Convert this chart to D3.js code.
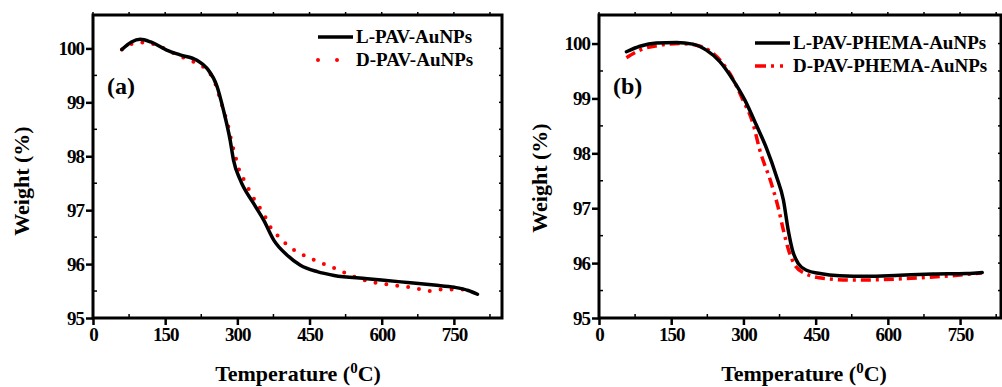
<!DOCTYPE html>
<html>
<head>
<meta charset="utf-8">
<script src="https://cdn.jsdelivr.net/npm/d3@7"></script>
<style>
  body { margin: 0; background: #fff; }
  text { font-family: "Liberation Serif", "Times New Roman", serif; font-weight: bold; }
</style>
</head>
<body>
<div id="chart"></div>
<script>
// panel (a) data
var tempA_L = [60, 80, 98, 120, 153, 181, 216, 237, 258, 271, 285, 292, 306, 334, 355, 376, 403, 431, 466, 501, 570, 640, 709, 751, 780, 799];
var weightA_L = [99.98, 100.12, 100.17, 100.12, 99.97, 99.88, 99.78, 99.63, 99.29, 98.86, 98.30, 97.93, 97.56, 97.12, 96.81, 96.44, 96.17, 95.98, 95.86, 95.79, 95.73, 95.67, 95.61, 95.57, 95.51, 95.44];
var tempA_D = [60, 84, 108, 133, 154, 175, 202, 223, 240, 254, 263, 271, 281, 288, 296, 305, 316, 328, 342, 356, 370, 388, 408, 430, 446, 466, 489, 511, 531, 554, 577, 600, 619, 643, 667, 699, 719, 740, 760, 782];
var weightA_D = [99.98, 100.09, 100.11, 100.06, 99.97, 99.88, 99.78, 99.69, 99.57, 99.35, 99.10, 98.86, 98.56, 98.27, 98.00, 97.71, 97.53, 97.31, 97.11, 96.91, 96.67, 96.49, 96.32, 96.20, 96.13, 96.05, 95.97, 95.89, 95.81, 95.73, 95.67, 95.64, 95.61, 95.59, 95.56, 95.50, 95.53, 95.53, 95.53, 95.53];

// panel (b) data
var tempB_L = [57, 85, 119, 161, 195, 223, 251, 279, 303, 327, 348, 369, 383, 393, 402, 414, 431, 459, 500, 556, 625, 694, 764, 796];
var weightB_L = [99.85, 99.95, 100.01, 100.02, 99.99, 99.88, 99.67, 99.33, 98.97, 98.51, 98.09, 97.57, 97.15, 96.60, 96.23, 95.99, 95.87, 95.81, 95.77, 95.76, 95.78, 95.80, 95.81, 95.83];
var tempB_D = [57, 85, 126, 168, 202, 237, 272, 299, 320, 334, 358, 372, 383, 394, 407, 428, 469, 525, 594, 663, 733, 795];
var weightB_D = [99.74, 99.88, 99.97, 100.00, 99.97, 99.82, 99.45, 98.97, 98.54, 98.06, 97.45, 97.02, 96.60, 96.23, 95.96, 95.81, 95.72, 95.69, 95.70, 95.73, 95.77, 95.82];

var xTicks = [0, 150, 300, 450, 600, 750];
var yTicks = [95, 96, 97, 98, 99, 100];

var width = 1002, height = 387;
var svg = d3.select("#chart").append("svg")
  .attr("width", width).attr("height", height);

function toPoints(xs, ys) {
  return xs.map(function(x, i) { return [x, ys[i]]; });
}

function drawPanel(p) {
  var x = d3.scaleLinear().domain(p.xDomain).range([p.left, p.right]);
  var y = d3.scaleLinear().domain(p.yDomain).range([p.bottom, p.top]);
  var g = svg.append("g");

  // minor ticks (inside) and mirror ticks
  var xMinor = d3.range(75, p.xDomain[1], 150);
  var yMinor = d3.range(95.5, 100.5, 1);
  xMinor.forEach(function(t) {
    g.append("line").attr("x1", x(t)).attr("x2", x(t)).attr("y1", p.bottom).attr("y2", p.bottom - 4)
      .attr("stroke", "#000").attr("stroke-width", 1.5);
  });
  yMinor.forEach(function(t) {
    g.append("line").attr("x1", p.left).attr("x2", p.left + 4).attr("y1", y(t)).attr("y2", y(t))
      .attr("stroke", "#000").attr("stroke-width", 1.5);
  });
  xTicks.concat(xMinor).forEach(function(t) {
    g.append("line").attr("x1", x(t)).attr("x2", x(t)).attr("y1", p.top).attr("y2", p.top - 3)
      .attr("stroke", "#000").attr("stroke-width", 1.5);
  });
  yTicks.concat(yMinor).forEach(function(t) {
    g.append("line").attr("x1", p.right).attr("x2", p.right - 3).attr("y1", y(t)).attr("y2", y(t))
      .attr("stroke", "#000").attr("stroke-width", 1.5);
  });

  // axes
  var xAxis = d3.axisBottom(x).tickValues(xTicks).tickSize(7).tickPadding(3).tickFormat(d3.format("d"));
  var yAxis = d3.axisLeft(y).tickValues(yTicks).tickSize(7).tickPadding(2).tickFormat(d3.format("d"));
  var gx = g.append("g").attr("transform", "translate(0," + p.bottom + ")").call(xAxis);
  var gy = g.append("g").attr("transform", "translate(" + p.left + ",0)").call(yAxis);
  [gx, gy].forEach(function(a) {
    a.select(".domain").remove();
    a.selectAll(".tick line").attr("stroke", "#000").attr("stroke-width", 2.5);
    a.selectAll(".tick text").attr("fill", "#000").style("font-size", "19px")
      .style("letter-spacing", "-1px").attr("font-family", null);
  });

  // frame
  g.append("rect").attr("x", p.left).attr("y", p.top)
    .attr("width", p.right - p.left).attr("height", p.bottom - p.top)
    .attr("fill", "none").attr("stroke", "#000").attr("stroke-width", 3);

  var line = d3.line().curve(d3.curveMonotoneX)
    .x(function(d) { return x(d[0]); }).y(function(d) { return y(d[1]); });

  g.append("path").datum(toPoints(p.dT, p.dW)).attr("d", line)
    .attr("fill", "none").attr("stroke", "#ff0000").attr("stroke-width", p.dWidth)
    .attr("stroke-dasharray", p.dDash).attr("stroke-linecap", p.dCap);
  g.append("path").datum(toPoints(p.lT, p.lW)).attr("d", line)
    .attr("fill", "none").attr("stroke", "#000").attr("stroke-width", 3.5)
    .attr("stroke-linecap", "round");

  // legend
  g.append("line").attr("x1", p.legX).attr("x2", p.legX + 35).attr("y1", p.legY).attr("y2", p.legY)
    .attr("stroke", "#000").attr("stroke-width", 3.5);
  g.append("text").attr("x", p.legX + 38).attr("y", p.legY + 6).text(p.lName).style("font-size", "19px");
  g.append("line").attr("x1", p.legX).attr("x2", p.legX + 35).attr("y1", p.legY + 23).attr("y2", p.legY + 23)
    .attr("stroke", "#ff0000").attr("stroke-width", p.dWidth)
    .attr("stroke-dasharray", p.legDash).attr("stroke-linecap", p.dCap);
  g.append("text").attr("x", p.legX + 38).attr("y", p.legY + 29).text(p.dName).style("font-size", "19px");

  // panel label
  g.append("text").attr("x", p.left + 14).attr("y", 94).text(p.tag).style("font-size", "24px");

  // axis titles
  var xt = g.append("text").attr("x", p.xTitleX).attr("y", 381).attr("text-anchor", "middle").style("font-size", "22px");
  xt.append("tspan").text("Temperature (");
  xt.append("tspan").attr("dy", -8).style("font-size", "15px").text("0");
  xt.append("tspan").attr("dy", 8).text("C)");
  g.append("text").attr("transform", "translate(" + p.yTitleX + "," + p.yTitleY + ") rotate(-90)")
    .attr("text-anchor", "middle").style("font-size", "22px").text("Weight (%)");
}

drawPanel({
  left: 93, right: 502, top: 15, bottom: 318,
  xDomain: [0, 850], yDomain: [95, 100.62],
  lT: tempA_L, lW: weightA_L, dT: tempA_D, dW: weightA_D,
  dWidth: 4, dDash: "0 11", dCap: "round", legDash: "0 19",
  legX: 318, legY: 37, lName: "L-PAV-AuNPs", dName: "D-PAV-AuNPs",
  tag: "(a)", xTitleX: 298, yTitleX: 29, yTitleY: 181
});

drawPanel({
  left: 599, right: 1001, top: 15, bottom: 318,
  xDomain: [0, 835], yDomain: [95, 100.52],
  lT: tempB_L, lW: weightB_L, dT: tempB_D, dW: weightB_D,
  dWidth: 3.5, dDash: "10 5 3 5", dCap: "butt", legDash: "11 5 3 6 3 8",
  legX: 755, legY: 43, lName: "L-PAV-PHEMA-AuNPs", dName: "D-PAV-PHEMA-AuNPs",
  tag: "(b)", xTitleX: 804, yTitleX: 547, yTitleY: 178
});
</script>
</body>
</html>
